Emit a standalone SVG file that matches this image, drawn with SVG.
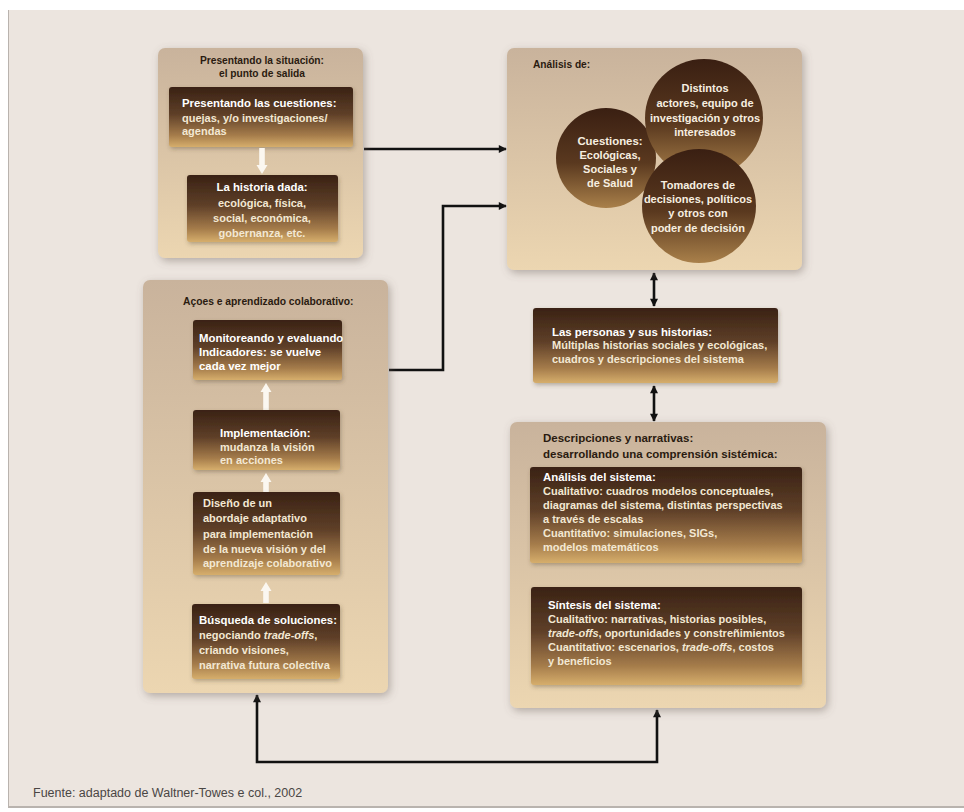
<svg xmlns="http://www.w3.org/2000/svg" width="964" height="812" viewBox="0 0 964 812">
<defs>
<linearGradient id="outer" x1="0" y1="0" x2="0" y2="1">
<stop offset="0" stop-color="#c9b39c"/>
<stop offset="1" stop-color="#ecd6b1"/>
</linearGradient>
<linearGradient id="inner" x1="0" y1="0" x2="0" y2="1">
<stop offset="0" stop-color="#3a2214"/>
<stop offset="0.45" stop-color="#5e3f28"/>
<stop offset="0.8" stop-color="#a47b4a"/>
<stop offset="1" stop-color="#d6ae6c"/>
</linearGradient>
<linearGradient id="circ" x1="0" y1="0" x2="0" y2="1">
<stop offset="0" stop-color="#3a1f12"/>
<stop offset="0.55" stop-color="#5a391f"/>
<stop offset="1" stop-color="#a9804a"/>
</linearGradient>
<filter id="sh" x="-10%" y="-10%" width="125%" height="125%">
<feDropShadow dx="2" dy="3" stdDeviation="4" flood-color="#6f645c" flood-opacity="0.45"/>
</filter>
<filter id="sh2" x="-10%" y="-10%" width="125%" height="125%">
<feDropShadow dx="1" dy="2" stdDeviation="2" flood-color="#4a3a2c" flood-opacity="0.35"/>
</filter>
<marker id="ah" viewBox="0 0 10 10" refX="9" refY="5" markerUnits="userSpaceOnUse" markerWidth="9" markerHeight="8" orient="auto-start-reverse">
<path d="M0,0 L10,5 L0,10 z" fill="#111"/>
</marker>
</defs>
<style>
.outer{fill:url(#outer);filter:url(#sh)}
.inner{fill:url(#inner);filter:url(#sh2)}
.circ{fill:url(#circ)}
.dk{font-family:"Liberation Sans",Arial,sans-serif;font-weight:bold;fill:#2a1b10}
.hd{font-family:"Liberation Sans",Arial,sans-serif;font-weight:bold;font-size:11.4px;fill:#ffffff}
.bd{font-family:"Liberation Sans",Arial,sans-serif;font-weight:bold;font-size:11px;fill:#f3e8d3}
.cb{font-family:"Liberation Sans",Arial,sans-serif;font-weight:bold;font-size:11px;fill:#f7efe0;text-anchor:middle}
.conn{fill:none;stroke:#111;stroke-width:2.6}
.warr{fill:#fbf7f0}
</style>
<rect x="0" y="0" width="964" height="812" fill="#ffffff"/>
<rect x="8" y="10" width="956" height="798" fill="#b9b3ae"/>
<rect x="9" y="10" width="955" height="796" fill="#ece5df"/>

<g id="connectors">
<path class="conn" d="M364,149 H506" marker-end="url(#ah)"/>
<path class="conn" d="M389,370 H443 V206 H506" marker-end="url(#ah)"/>
<path class="conn" d="M654,273 V306" marker-start="url(#ah)" marker-end="url(#ah)"/>
<path class="conn" d="M654,386 V421" marker-start="url(#ah)" marker-end="url(#ah)"/>
<path class="conn" d="M657,710 V762 H257 V695" marker-start="url(#ah)" marker-end="url(#ah)"/>
</g>

<g id="situacion">
<rect class="outer" x="158" y="48" width="205" height="210" rx="7"/>
<text class="dk" font-size="10.2" text-anchor="middle"><tspan x="262" y="64">Presentando la situación:</tspan><tspan x="262" y="77">el punto de salida</tspan></text>
<g id="cuestiones">
<rect class="inner" x="169" y="87" width="184" height="60" rx="3"/>
<text class="hd" x="182" y="107">Presentando las cuestiones:</text>
<text class="bd"><tspan x="182" y="122">quejas, y/o investigaciones/</tspan><tspan x="182" y="135">agendas</tspan></text>
</g>
<path class="warr" d="M262,174 L256.5,165 H259.2 V148 H264.8 V165 H267.5 Z"/>
<g id="historia">
<rect class="inner" x="187" y="175" width="151" height="67" rx="3"/>
<text class="hd" x="262" y="191" text-anchor="middle">La historia dada:</text>
<text class="bd" text-anchor="middle"><tspan x="262" y="207">ecológica, física,</tspan><tspan x="262" y="222">social, económica,</tspan><tspan x="262" y="237">gobernanza, etc.</tspan></text>
</g>
</g>

<g id="analisis">
<rect class="outer" x="507" y="48" width="295" height="222" rx="7"/>
<text class="dk" font-size="10.2" x="533" y="68">Análisis de:</text>
<g id="c-cuestiones">
<circle class="circ" cx="606" cy="158" r="50"/>
<text class="cb"><tspan x="610" y="145" font-size="11.4">Cuestiones:</tspan><tspan x="610" y="159">Ecológicas,</tspan><tspan x="610" y="173">Sociales y</tspan><tspan x="610" y="187">de Salud</tspan></text>
</g>
<g id="c-actores">
<circle class="circ" cx="704" cy="118" r="59"/>
<text class="cb"><tspan x="705" y="92">Distintos</tspan><tspan x="705" y="107">actores, equipo de</tspan><tspan x="705" y="122">investigación y otros</tspan><tspan x="705" y="136">interesados</tspan></text>
</g>
<g id="c-tomadores">
<circle class="circ" cx="699" cy="206" r="57"/>
<text class="cb"><tspan x="698" y="189">Tomadores de</tspan><tspan x="698" y="203">decisiones, políticos</tspan><tspan x="698" y="217">y otros con</tspan><tspan x="698" y="232">poder de decisión</tspan></text>
</g>
</g>

<g id="acoes">
<rect class="outer" x="143" y="280" width="245" height="413" rx="7"/>
<text class="dk" font-size="10.3" x="183" y="305">Açoes e aprendizado colaborativo:</text>
<g id="monitoreando">
<rect class="inner" x="193" y="320" width="149" height="60" rx="3"/>
<text class="hd"><tspan x="199" y="342">Monitoreando y evaluando</tspan><tspan x="199" y="356">Indicadores: se vuelve</tspan><tspan x="199" y="370">cada vez mejor</tspan></text>
</g>
<path class="warr" d="M266,383 L271.5,392 H268.8 V410 H263.2 V392 H260.5 Z"/>
<g id="implementacion">
<rect class="inner" x="193" y="410" width="147" height="60" rx="3"/>
<text class="hd" x="220" y="437">Implementación:</text>
<text class="bd"><tspan x="220" y="451">mudanza la visión</tspan><tspan x="220" y="464">en acciones</tspan></text>
</g>
<path class="warr" d="M266,473 L271.5,482 H268.8 V492 H263.2 V482 H260.5 Z"/>
<g id="diseno">
<rect class="inner" x="193" y="492" width="147" height="83" rx="3"/>
<text class="bd"><tspan x="203" y="507">Diseño de un</tspan><tspan x="203" y="522">abordaje adaptativo</tspan><tspan x="203" y="538">para implementación</tspan><tspan x="203" y="553">de la nueva visión y del</tspan><tspan x="203" y="567">aprendizaje colaborativo</tspan></text>
</g>
<path class="warr" d="M266,582 L271.5,591 H268.8 V603 H263.2 V591 H260.5 Z"/>
<g id="busqueda">
<rect class="inner" x="192" y="604" width="148" height="75" rx="3"/>
<text class="hd" x="199" y="624">Búsqueda de soluciones:</text>
<text class="bd"><tspan x="199" y="639">negociando <tspan font-style="italic">trade-offs</tspan>,</tspan><tspan x="199" y="654">criando visiones,</tspan><tspan x="199" y="669">narrativa futura colectiva</tspan></text>
</g>
</g>

<g id="personas">
<rect class="inner" x="533" y="308" width="245" height="75" rx="3"/>
<text class="hd" x="552" y="336">Las personas y sus historias:</text>
<text class="bd"><tspan x="552" y="349">Múltiplas historias sociales y ecológicas,</tspan><tspan x="552" y="363">cuadros y descripciones del sistema</tspan></text>
</g>

<g id="descripciones">
<rect class="outer" x="510" y="422" width="316" height="286" rx="7"/>
<text class="dk" font-size="11.5"><tspan x="543" y="442">Descripciones y narrativas:</tspan><tspan x="543" y="458">desarrollando una comprensión sistémica:</tspan></text>
<g id="analisis-sistema">
<rect class="inner" x="530" y="467" width="272" height="96" rx="3"/>
<text class="hd" x="543" y="481">Análisis del sistema:</text>
<text class="bd"><tspan x="543" y="495">Cualitativo: cuadros modelos conceptuales,</tspan><tspan x="543" y="509">diagramas del sistema, distintas perspectivas</tspan><tspan x="543" y="523">a través de escalas</tspan><tspan x="543" y="537">Cuantitativo: simulaciones, SIGs,</tspan><tspan x="543" y="551">modelos matemáticos</tspan></text>
</g>
<g id="sintesis-sistema">
<rect class="inner" x="531" y="587" width="271" height="98" rx="3"/>
<text class="hd" x="548" y="609">Síntesis del sistema:</text>
<text class="bd"><tspan x="548" y="623">Cualitativo: narrativas, historias posibles,</tspan><tspan x="548" y="637"><tspan font-style="italic">trade-offs</tspan>, oportunidades y constreñimientos</tspan><tspan x="548" y="651">Cuantitativo: escenarios, <tspan font-style="italic">trade-offs</tspan>, costos</tspan><tspan x="548" y="665">y beneficios</tspan></text>
</g>
</g>

<text x="33" y="797" font-family="'Liberation Sans',Arial,sans-serif" font-size="12.5" fill="#4a4644">Fuente: adaptado de Waltner-Towes e col., 2002</text>
</svg>
